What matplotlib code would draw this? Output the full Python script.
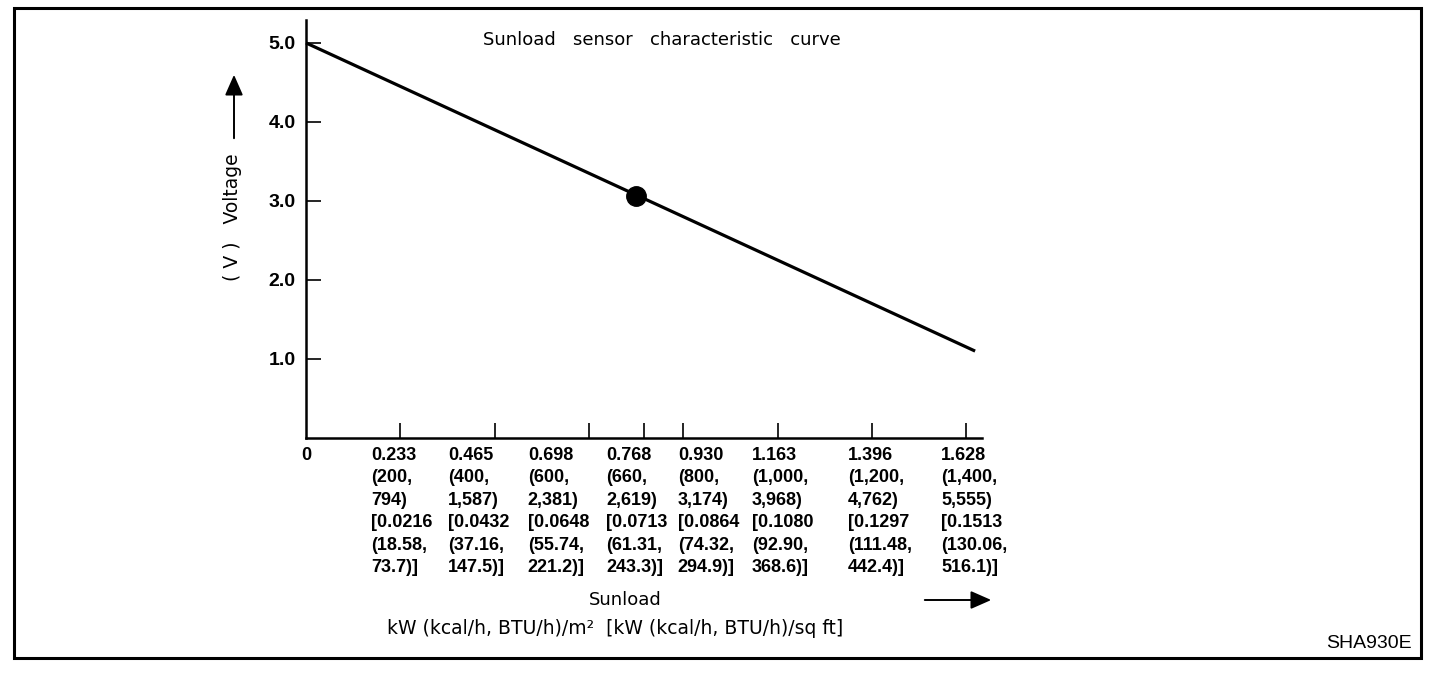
import matplotlib
matplotlib.use("Agg")
import matplotlib.pyplot as plt
from matplotlib.patches import Rectangle, FancyArrowPatch

plt.rcParams['font.family'] = ['DejaVu Sans']
TICKFONT = ['Liberation Sans', 'DejaVu Sans']

# ---- data ----
line_x = [0.0, 1.65]          # sunload position along drawn axis
line_v = [5.0, 1.10]          # voltage
point_x = [0.814]
point_v = [3.06]

y_ticks = [1.0, 2.0, 3.0, 4.0, 5.0]
y_tick_labels = ["1.0", "2.0", "3.0", "4.0", "5.0"]

x_tick_pos = [0.233, 0.465, 0.698, 0.833, 0.930, 1.163, 1.396, 1.628]
x_tick_labels = [
    "0.233\n(200,\n794)\n[0.0216\n(18.58,\n73.7)]",
    "0.465\n(400,\n1,587)\n[0.0432\n(37.16,\n147.5)]",
    "0.698\n(600,\n2,381)\n[0.0648\n(55.74,\n221.2)]",
    "0.768\n(660,\n2,619)\n[0.0713\n(61.31,\n243.3)]",
    "0.930\n(800,\n3,174)\n[0.0864\n(74.32,\n294.9)]",
    "1.163\n(1,000,\n3,968)\n[0.1080\n(92.90,\n368.6)]",
    "1.396\n(1,200,\n4,762)\n[0.1297\n(111.48,\n442.4)]",
    "1.628\n(1,400,\n5,555)\n[0.1513\n(130.06,\n516.1)]",
]
# left edges of the label blocks (layout)
x_label_left = [0.160, 0.350, 0.547, 0.740, 0.917, 1.100, 1.336, 1.566]

W, H = 1456, 676
fig = plt.figure(figsize=(W / 100, H / 100), dpi=100)
fig.patch.set_facecolor('white')

def fx(px):
    return px / W

def fy(py):
    return 1 - py / H

# frame
fig.patches.append(Rectangle((fx(13.5), fy(657.5)), (1421 - 13.5) / W, (657.5 - 7.5) / H,
                             transform=fig.transFigure, fill=False, lw=2.2,
                             edgecolor='black'))

ax = fig.add_axes([fx(306), fy(438), 676 / W, 418 / H])
ax.set_xlim(0, 1.667)
ax.set_ylim(0, 5.29)
for s in ['top', 'right']:
    ax.spines[s].set_visible(False)
for s in ['left', 'bottom']:
    ax.spines[s].set_linewidth(1.8)

ax.plot(line_x, line_v, color='black', lw=2.3, solid_capstyle='butt', clip_on=False)
ax.plot(point_x, point_v, 'o', color='black', ms=14, clip_on=False)

ax.set_yticks(y_ticks)
ax.set_yticklabels(y_tick_labels, fontsize=14, fontweight='bold', family=TICKFONT)
ax.tick_params(axis='y', direction='in', length=11, width=1.2, pad=7.5)

ax.set_xticks(x_tick_pos)
ax.set_xticklabels([])
ax.tick_params(axis='x', direction='in', length=11, width=1.2)

xt = ax.get_xaxis_transform()
for xl, lab in zip(x_label_left, x_tick_labels):
    ax.text(xl, -0.021, lab, transform=xt, ha='left', va='top', fontsize=13,
            fontweight='bold', linespacing=1.42, family=TICKFONT)
ax.text(0.0, -0.021, "0", transform=xt, ha='center', va='top', fontsize=13,
        fontweight='bold', family=TICKFONT)

# title
fig.text(fx(483), fy(40), "Sunload   sensor   characteristic   curve", ha='left',
         va='center', fontsize=13)

# y label with arrow
fig.text(fx(233), fy(281), "( V )   Voltage", rotation=90, ha='center',
         va='bottom', fontsize=13.5)
fig.add_artist(FancyArrowPatch(
    (fx(234), fy(141)), (fx(234), fy(72)), transform=fig.transFigure,
    arrowstyle='-|>,head_length=12.5,head_width=5.5', color='black', lw=1.4,
    mutation_scale=1))

# x label
fig.text(fx(625), fy(600), "Sunload", ha='center', va='center', fontsize=13)
fig.text(fx(615), fy(628), "kW (kcal/h, BTU/h)/m²  [kW (kcal/h, BTU/h)/sq ft]",
         ha='center', va='center', fontsize=13.5)
fig.add_artist(FancyArrowPatch(
    (fx(922), fy(600)), (fx(994), fy(600)), transform=fig.transFigure,
    arrowstyle='-|>,head_length=12.5,head_width=5.5', color='black', lw=1.4,
    mutation_scale=1))

fig.text(fx(1412), fy(643), "SHA930E", ha='right', va='center', fontsize=14,
         family=TICKFONT)

fig.savefig("out.png", dpi=100, facecolor='white')
